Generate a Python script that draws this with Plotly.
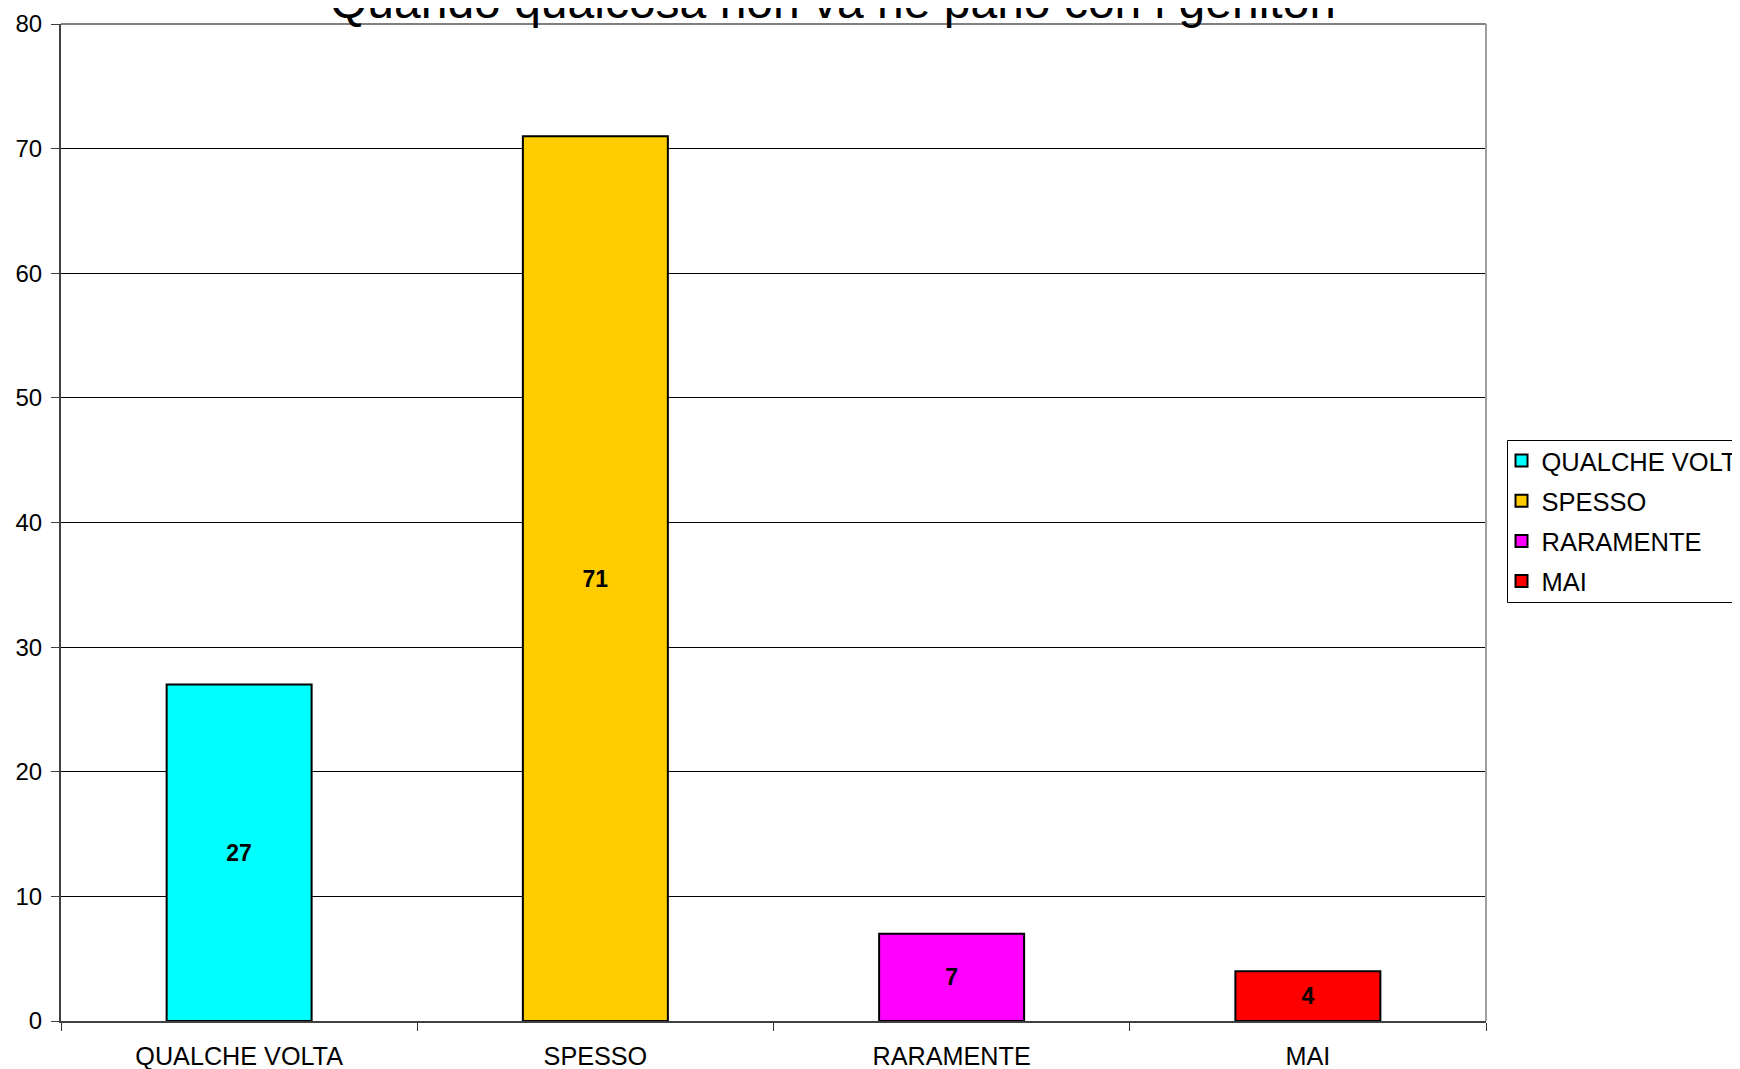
import plotly.graph_objects as go

categories = ["QUALCHE VOLTA", "SPESSO", "RARAMENTE", "MAI"]
values = [27, 71, 7, 4]
colors = ["#00FFFF", "#FFCC00", "#FF00FF", "#FF0000"]
y_ticks = [0, 10, 20, 30, 40, 50, 60, 70, 80]
title_text = "Quando qualcosa non va ne parlo con i genitori"

FONT = "Liberation Sans, Arial, sans-serif"
# page body has an 8px margin, so the figure is sized to fill the window exactly
OFF = 8
W, H = 1740 - OFF, 1069 - OFF
PX0, PX1, PY0, PY1 = 61 - OFF, 1486 - OFF, 24 - OFF, 1021 - OFF
L, R, T, B = PX0, W - PX1, PY0, H - PY1
PW, PH = PX1 - PX0, PY1 - PY0


def px_x(x):
    return (x - OFF - PX0) / PW


def px_y(y):
    return (PY1 - (y - OFF)) / PH


fig = go.Figure()
for i, (cat, val, col) in enumerate(zip(categories, values, colors)):
    fig.add_trace(go.Bar(
        x=[cat], y=[val], name=cat,
        marker=dict(color=col, line=dict(color="black", width=2)),
        width=0.407,
        text=[str(val)], textposition="inside", insidetextanchor="middle",
        textangle=0,
        textfont=dict(family=FONT, size=23, color="black", weight="bold"),
        legendgroup=f"g{i}",
        hoverinfo="x+y",
    ))

fig.update_layout(
    width=W, height=H,
    margin=dict(l=L, r=R, t=T, b=B, autoexpand=False),
    paper_bgcolor="white", plot_bgcolor="white",
    barmode="overlay",
    font=dict(family=FONT, color="black"),
    showlegend=True,
    legend=dict(
        x=px_x(1501.5), y=px_y(437.5),
        xanchor="left", yanchor="top",
        borderwidth=0, bgcolor="rgba(0,0,0,0)",
        font=dict(family=FONT, size=25.5, color="black"),
        tracegroupgap=4,
    ),
    xaxis=dict(
        categoryorder="array", categoryarray=categories,
        tickson="boundaries", ticks="outside", ticklen=8, tickwidth=1,
        tickcolor="#303030",
        showline=True, linecolor="#404040", linewidth=2,
        showgrid=False, zeroline=False,
        tickfont=dict(family=FONT, size=25.2, color="black"),
        ticklabelstandoff=12,
        range=[-0.5, 3.5],
    ),
    yaxis=dict(
        range=[0, 80], tickvals=y_ticks, ticktext=[str(v) for v in y_ticks],
        ticks="outside", ticklen=8, tickwidth=1, tickcolor="#404040",
        showline=True, linecolor="#404040", linewidth=2,
        showgrid=True, gridcolor="black", gridwidth=1,
        zeroline=False,
        tickfont=dict(family=FONT, size=24, color="black"),
        ticklabelstandoff=4,
    ),
    shapes=[
        dict(type="line", xref="paper", yref="paper", x0=0, x1=1, y0=1, y1=1,
             line=dict(color="#808080", width=2), layer="above"),
        dict(type="line", xref="paper", yref="paper", x0=1, x1=1, y0=0, y1=1,
             line=dict(color="#A0A0A0", width=2), layer="above"),
        # legend frame (runs off the right edge as in the reference)
        dict(type="rect", xref="paper", yref="paper",
             x0=px_x(1507.5), x1=px_x(1800), y0=px_y(602.5), y1=px_y(440.5),
             line=dict(color="black", width=1), fillcolor="rgba(0,0,0,0)",
             layer="above"),
    ],
    annotations=[
        dict(text=title_text, xref="paper", yref="paper",
             x=px_x(833), y=1, xanchor="center", yanchor="bottom",
             yshift=-6.5, showarrow=False,
             font=dict(family=FONT, size=48, color="black")),
    ],
)

fig.write_html("out.html")
